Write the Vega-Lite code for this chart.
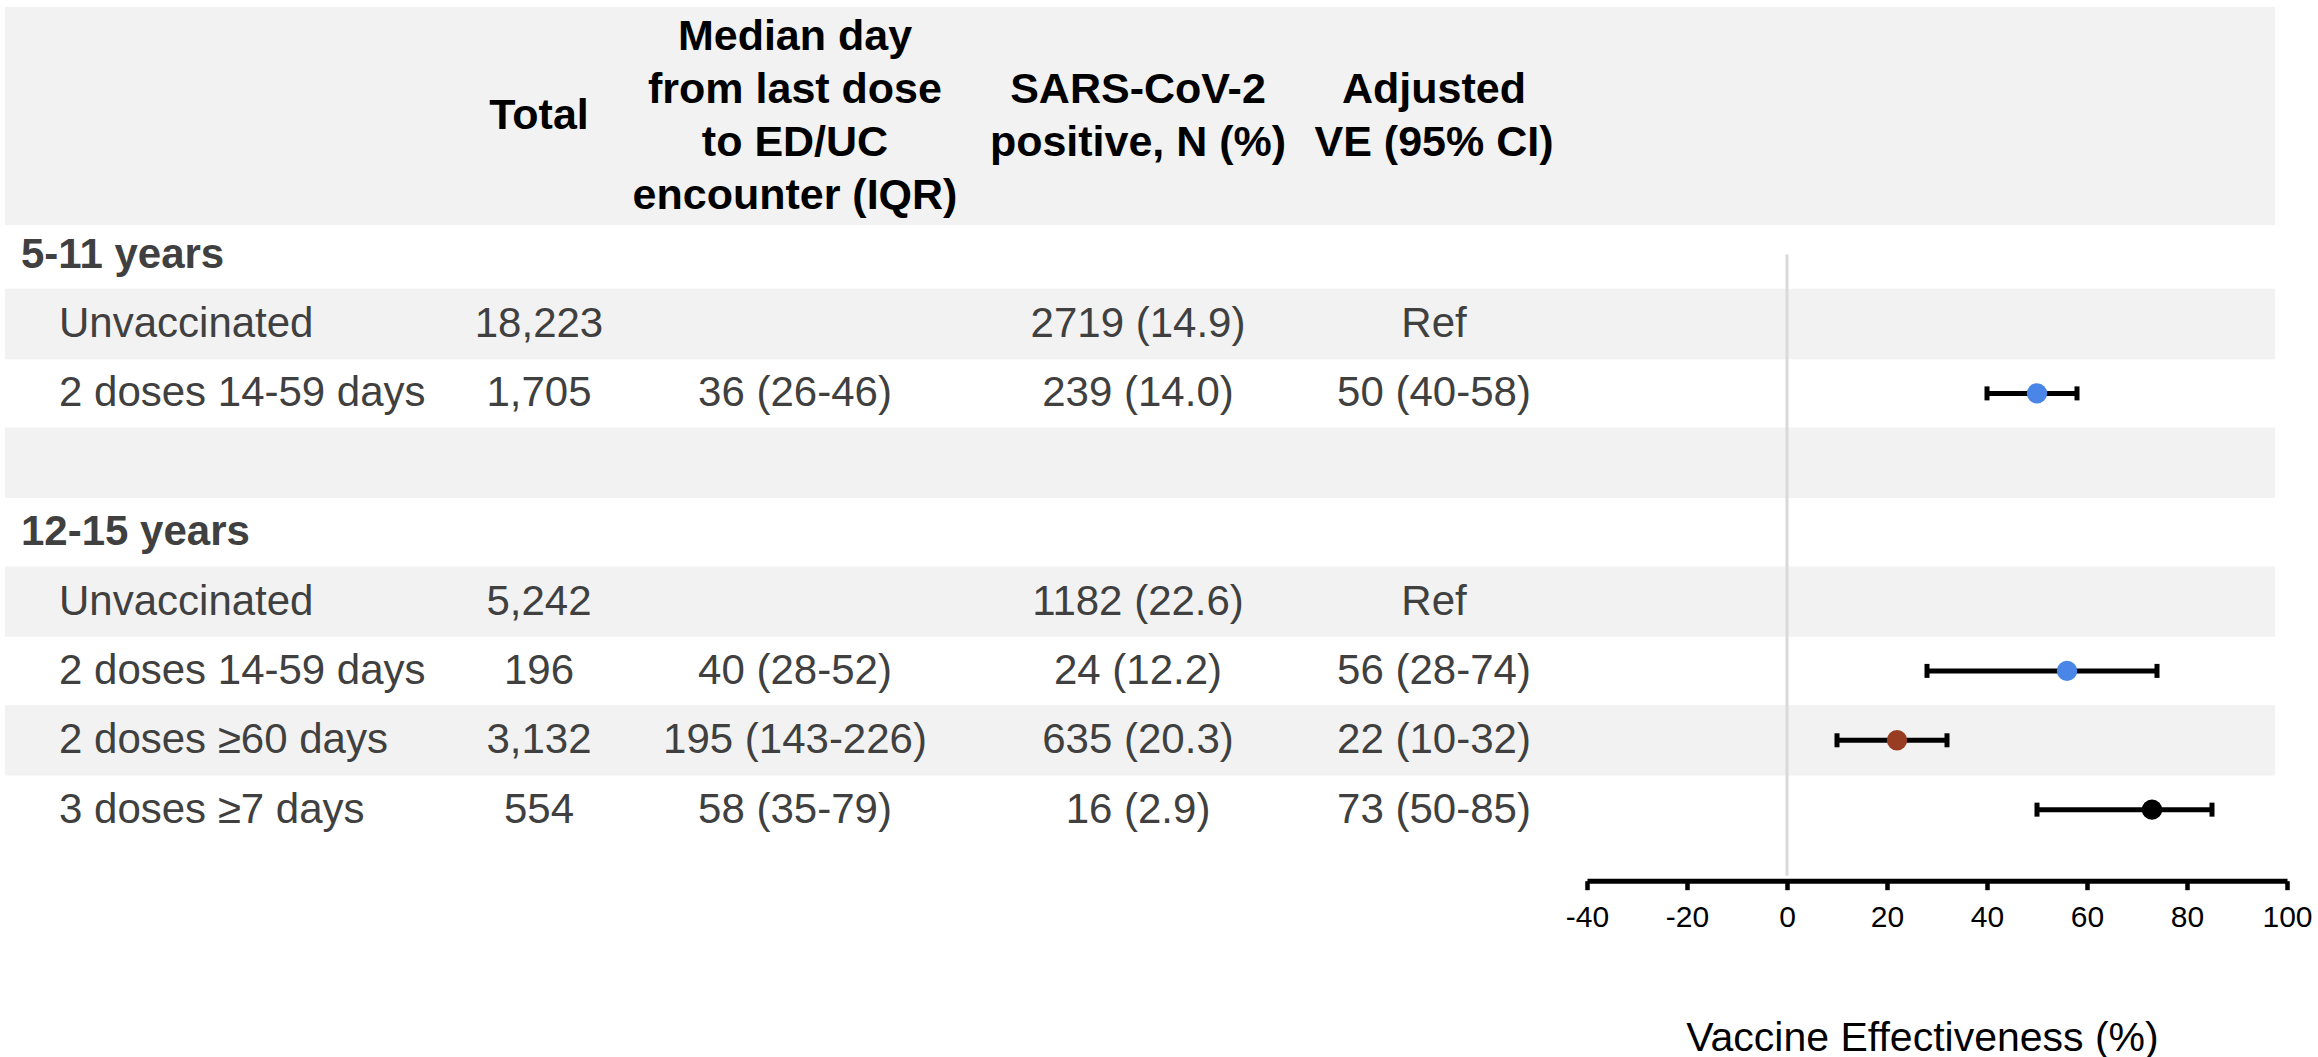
{
  "$schema": "https://vega.github.io/schema/vega-lite/v6.json",
  "background": "white",
  "padding": {"left": 5, "top": 7, "right": 0, "bottom": 0},
  "spacing": 0,
  "config": {
    "font": "Liberation Sans",
    "view": {"stroke": null},
    "concat": {"spacing": 0}
  },
  "datasets": {
    "table": [
      {"row": 0, "kind": "group", "label": "5-11 years"},
      {"row": 1, "kind": "sub", "label": "Unvaccinated", "total": "18,223", "median": "", "positive": "2719 (14.9)", "ve_text": "Ref"},
      {"row": 2, "kind": "sub", "label": "2 doses 14-59 days", "total": "1,705", "median": "36 (26-46)", "positive": "239 (14.0)", "ve_text": "50 (40-58)", "ve": 50, "lo": 40, "hi": 58},
      {"row": 4, "kind": "group", "label": "12-15 years"},
      {"row": 5, "kind": "sub", "label": "Unvaccinated", "total": "5,242", "median": "", "positive": "1182 (22.6)", "ve_text": "Ref"},
      {"row": 6, "kind": "sub", "label": "2 doses 14-59 days", "total": "196", "median": "40 (28-52)", "positive": "24 (12.2)", "ve_text": "56 (28-74)", "ve": 56, "lo": 28, "hi": 74},
      {"row": 7, "kind": "sub", "label": "2 doses ≥60 days", "total": "3,132", "median": "195 (143-226)", "positive": "635 (20.3)", "ve_text": "22 (10-32)", "ve": 22, "lo": 10, "hi": 32},
      {"row": 8, "kind": "sub", "label": "3 doses ≥7 days", "total": "554", "median": "58 (35-79)", "positive": "16 (2.9)", "ve_text": "73 (50-85)", "ve": 73, "lo": 50, "hi": 85}
    ],
    "stripes": [{"row": 1}, {"row": 3}, {"row": 5}, {"row": 7}],
    "headers": [
      {"col": "label", "h": [""]},
      {"col": "total", "h": ["Total"]},
      {"col": "median", "h": ["Median day", "from last dose", "to ED/UC", "encounter (IQR)"]},
      {"col": "positive", "h": ["SARS-CoV-2", "positive, N (%)"]},
      {"col": "ve", "h": ["Adjusted", "VE (95% CI)"]},
      {"col": "forest", "h": [""]}
    ]
  },
  "vconcat": [
    {
      "bounds": "flush",
      "spacing": 0,
      "hconcat": [
        {"width": 478, "height": 218, "view": {"fill": "#000000", "fillOpacity": 0.051, "stroke": null}, "data": {"name": "headers"}, "transform": [{"filter": "datum.col === 'label'"}], "mark": {"type": "text", "fontSize": 43, "fontWeight": "bold", "color": "black", "lineHeight": 53, "baseline": "middle"}, "encoding": {"text": {"field": "h"}}},
        {"width": 112, "height": 218, "view": {"fill": "#000000", "fillOpacity": 0.051, "stroke": null}, "data": {"name": "headers"}, "transform": [{"filter": "datum.col === 'total'"}], "mark": {"type": "text", "fontSize": 43, "fontWeight": "bold", "color": "black", "lineHeight": 53, "baseline": "middle"}, "encoding": {"text": {"field": "h"}}},
        {"width": 400, "height": 218, "view": {"fill": "#000000", "fillOpacity": 0.051, "stroke": null}, "data": {"name": "headers"}, "transform": [{"filter": "datum.col === 'median'"}], "mark": {"type": "text", "fontSize": 43, "fontWeight": "bold", "color": "black", "lineHeight": 53, "baseline": "middle", "dy": -79.5}, "encoding": {"text": {"field": "h"}}},
        {"width": 286, "height": 218, "view": {"fill": "#000000", "fillOpacity": 0.051, "stroke": null}, "data": {"name": "headers"}, "transform": [{"filter": "datum.col === 'positive'"}], "mark": {"type": "text", "fontSize": 43, "fontWeight": "bold", "color": "black", "lineHeight": 53, "baseline": "middle", "dy": -26.5}, "encoding": {"text": {"field": "h"}}},
        {"width": 306, "height": 218, "view": {"fill": "#000000", "fillOpacity": 0.051, "stroke": null}, "data": {"name": "headers"}, "transform": [{"filter": "datum.col === 've'"}], "mark": {"type": "text", "fontSize": 43, "fontWeight": "bold", "color": "black", "lineHeight": 53, "baseline": "middle", "dy": -26.5}, "encoding": {"text": {"field": "h"}}},
        {"width": 688, "height": 218, "view": {"fill": "#000000", "fillOpacity": 0.051, "stroke": null}, "data": {"name": "headers"}, "transform": [{"filter": "datum.col === 'forest'"}], "mark": {"type": "text", "fontSize": 43, "fontWeight": "bold", "color": "black", "lineHeight": 53, "baseline": "middle"}, "encoding": {"text": {"field": "h"}}}
      ]
    },
    {
      "bounds": "flush",
      "spacing": 0,
      "hconcat": [
        {
          "width": 478, "height": 655.7,
          "layer": [
            {"data": {"name": "stripes"}, "mark": {"type": "bar", "orient": "horizontal", "size": 70.45, "color": "black", "opacity": 0.051},
             "encoding": {"y": {"field": "row", "type": "quantitative", "scale": {"domain": [-0.3549, 8.952], "reverse": true, "nice": false, "zero": false}, "axis": null}}},
            {"data": {"name": "table"}, "transform": [{"filter": "datum.kind === 'group'"}],
             "mark": {"type": "text", "fontSize": 42, "fontWeight": "bold", "color": "#404040", "align": "left", "baseline": "middle"},
             "encoding": {
               "x": {"field": "kind", "type": "nominal", "scale": {"type": "point", "domain": ["group", "sub"], "range": [16, 54], "padding": 0}, "axis": null},
               "y": {"field": "row", "type": "quantitative", "scale": {"domain": [-0.3549, 8.952], "reverse": true, "nice": false, "zero": false}, "axis": null},
               "text": {"field": "label"}}},
            {"data": {"name": "table"}, "transform": [{"filter": "datum.kind === 'sub'"}],
             "mark": {"type": "text", "fontSize": 42, "color": "#404040", "align": "left", "baseline": "middle"},
             "encoding": {
               "x": {"field": "kind", "type": "nominal", "scale": {"type": "point", "domain": ["group", "sub"], "range": [16, 54], "padding": 0}, "axis": null},
               "y": {"field": "row", "type": "quantitative", "scale": {"domain": [-0.3549, 8.952], "reverse": true, "nice": false, "zero": false}, "axis": null},
               "text": {"field": "label"}}}
          ]
        },
        {
          "width": 112, "height": 655.7,
          "layer": [
            {"data": {"name": "stripes"}, "mark": {"type": "bar", "orient": "horizontal", "size": 70.45, "color": "black", "opacity": 0.051},
             "encoding": {"y": {"field": "row", "type": "quantitative", "scale": {"domain": [-0.3549, 8.952], "reverse": true, "nice": false, "zero": false}, "axis": null}}},
            {"data": {"name": "table"}, "transform": [{"filter": "datum.kind === 'sub'"}],
             "mark": {"type": "text", "fontSize": 42, "color": "#404040", "align": "center", "baseline": "middle"},
             "encoding": {
               "y": {"field": "row", "type": "quantitative", "scale": {"domain": [-0.3549, 8.952], "reverse": true, "nice": false, "zero": false}, "axis": null},
               "text": {"field": "total"}}}
          ]
        },
        {
          "width": 400, "height": 655.7,
          "layer": [
            {"data": {"name": "stripes"}, "mark": {"type": "bar", "orient": "horizontal", "size": 70.45, "color": "black", "opacity": 0.051},
             "encoding": {"y": {"field": "row", "type": "quantitative", "scale": {"domain": [-0.3549, 8.952], "reverse": true, "nice": false, "zero": false}, "axis": null}}},
            {"data": {"name": "table"}, "transform": [{"filter": "datum.kind === 'sub'"}],
             "mark": {"type": "text", "fontSize": 42, "color": "#404040", "align": "center", "baseline": "middle"},
             "encoding": {
               "y": {"field": "row", "type": "quantitative", "scale": {"domain": [-0.3549, 8.952], "reverse": true, "nice": false, "zero": false}, "axis": null},
               "text": {"field": "median"}}}
          ]
        },
        {
          "width": 286, "height": 655.7,
          "layer": [
            {"data": {"name": "stripes"}, "mark": {"type": "bar", "orient": "horizontal", "size": 70.45, "color": "black", "opacity": 0.051},
             "encoding": {"y": {"field": "row", "type": "quantitative", "scale": {"domain": [-0.3549, 8.952], "reverse": true, "nice": false, "zero": false}, "axis": null}}},
            {"data": {"name": "table"}, "transform": [{"filter": "datum.kind === 'sub'"}],
             "mark": {"type": "text", "fontSize": 42, "color": "#404040", "align": "center", "baseline": "middle"},
             "encoding": {
               "y": {"field": "row", "type": "quantitative", "scale": {"domain": [-0.3549, 8.952], "reverse": true, "nice": false, "zero": false}, "axis": null},
               "text": {"field": "positive"}}}
          ]
        },
        {
          "width": 306, "height": 655.7,
          "layer": [
            {"data": {"name": "stripes"}, "mark": {"type": "bar", "orient": "horizontal", "size": 70.45, "color": "black", "opacity": 0.051},
             "encoding": {"y": {"field": "row", "type": "quantitative", "scale": {"domain": [-0.3549, 8.952], "reverse": true, "nice": false, "zero": false}, "axis": null}}},
            {"data": {"name": "table"}, "transform": [{"filter": "datum.kind === 'sub'"}],
             "mark": {"type": "text", "fontSize": 42, "color": "#404040", "align": "center", "baseline": "middle"},
             "encoding": {
               "y": {"field": "row", "type": "quantitative", "scale": {"domain": [-0.3549, 8.952], "reverse": true, "nice": false, "zero": false}, "axis": null},
               "text": {"field": "ve_text"}}}
          ]
        },
        {
          "width": 688, "height": 655.7,
          "layer": [
            {"data": {"name": "stripes"}, "mark": {"type": "bar", "orient": "horizontal", "size": 70.45, "color": "black", "opacity": 0.051},
             "encoding": {"y": {"field": "row", "type": "quantitative", "scale": {"domain": [-0.3549, 8.952], "reverse": true, "nice": false, "zero": false}, "axis": null}}},
            {"data": {"name": "table"}, "transform": [{"filter": "datum.row === 0"}],
             "mark": {"type": "rule", "color": "#d9d9d9", "strokeWidth": 3},
             "encoding": {
               "x": {"datum": 0, "type": "quantitative", "scale": {"domain": [-40, 100], "range": [0, 700], "nice": false, "zero": false},
                     "axis": {"values": [-40, -20, 0, 20, 40, 60, 80, 100], "title": "Vaccine Effectiveness (%)", "grid": false,
                              "labelExpr": "replace(datum.label, '−', '-')",
                              "domainColor": "black", "domainWidth": 5, "tickColor": "black", "tickWidth": 4.5, "tickSize": 9,
                              "labelFontSize": 30, "labelColor": "black", "labelPadding": 13, "labelFlush": false, "labelOverlap": false,
                              "titleFontSize": 41, "titleFontWeight": "normal", "titleColor": "black", "titleBaseline": "alphabetic",
                              "titleY": 170, "titleX": 335, "titleAlign": "center"}},
               "y": {"field": "row", "type": "quantitative", "scale": {"domain": [-0.3549, 8.952], "reverse": true, "nice": false, "zero": false}, "axis": null},
               "y2": {"datum": 8.952}}},
            {"data": {"name": "table"}, "transform": [{"filter": "isValid(datum.ve)"}],
             "mark": {"type": "rule", "color": "black", "strokeWidth": 5},
             "encoding": {
               "x": {"field": "lo", "type": "quantitative"},
               "x2": {"field": "hi"},
               "y": {"field": "row", "type": "quantitative"}}},
            {"data": {"name": "table"}, "transform": [{"filter": "isValid(datum.ve)"}],
             "mark": {"type": "tick", "orient": "vertical", "color": "black", "size": 14, "thickness": 5, "opacity": 1},
             "encoding": {
               "x": {"field": "lo", "type": "quantitative"},
               "y": {"field": "row", "type": "quantitative"}}},
            {"data": {"name": "table"}, "transform": [{"filter": "isValid(datum.ve)"}],
             "mark": {"type": "tick", "orient": "vertical", "color": "black", "size": 14, "thickness": 5, "opacity": 1},
             "encoding": {
               "x": {"field": "hi", "type": "quantitative"},
               "y": {"field": "row", "type": "quantitative"}}},
            {"data": {"name": "table"}, "transform": [{"filter": "isValid(datum.ve)"}],
             "mark": {"type": "circle", "size": 415, "opacity": 1},
             "encoding": {
               "x": {"field": "ve", "type": "quantitative"},
               "y": {"field": "row", "type": "quantitative"},
               "color": {"field": "label", "type": "nominal",
                         "scale": {"domain": ["2 doses 14-59 days", "2 doses ≥60 days", "3 doses ≥7 days"], "range": ["#4a86e8", "#993d22", "#000000"]},
                         "legend": null}}}
          ]
        }
      ]
    }
  ]
}
